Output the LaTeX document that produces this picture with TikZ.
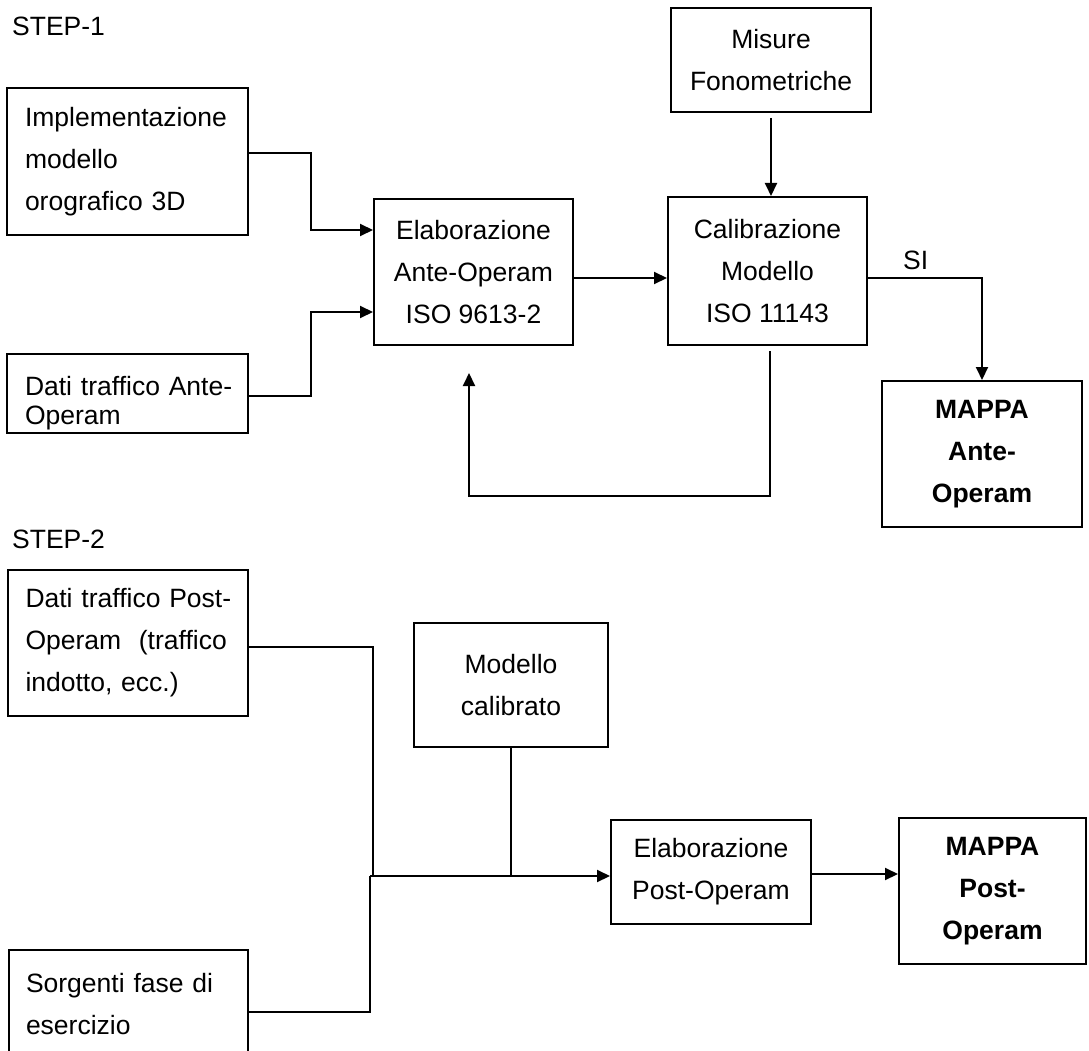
\documentclass[tikz,border=0pt]{standalone}
\usepackage{fontspec}
\setmainfont{Liberation Sans}
\usetikzlibrary{arrows.meta}
\begin{document}
\begin{tikzpicture}[x=1pt,y=-1pt,
  txt/.style={font=\fontsize{26.5}{42}\selectfont},
  box/.style={draw, line width=2pt, inner sep=0pt, align=center, txt},
  lbox/.style={box, align=left, text width=205pt},
  bbox/.style={box, font=\fontsize{26.5}{42}\selectfont\bfseries},
  conn/.style={line width=2pt},
  arr/.style={conn, -{Triangle[length=13pt,width=12pt]}},
  lbl/.style={font=\fontsize{26.5}{32}\selectfont, inner sep=0pt}]
\useasboundingbox (0,0) rectangle (1089,1051);
\clip (0,0) rectangle (1089,1051);

% STEP-1
\node[lbl, anchor=base west] (s1) at (12,36) {STEP-1};
\node[lbox, minimum width=241pt, minimum height=147pt] (impl) at (127.5,161.5) {Implementazione\\modello\\orografico 3D};
\node[box, minimum width=241pt, minimum height=79pt] (datiA) at (127.5,393.5) {};
\node[lbl, align=left, text width=205pt, font=\fontsize{26.5}{29}\selectfont, anchor=base] (datiAt) at (127.5,395) {\makebox[205pt][s]{Dati traffico Ante-}\\Operam};
\node[box, minimum width=199pt, minimum height=146pt] (elabA) at (473.5,272) {Elaborazione\\Ante-Operam\\ISO 9613-2};
\node[box, minimum width=200pt, minimum height=104pt] (misure) at (771,60) {Misure\\Fonometriche};
\node[box, minimum width=199pt, minimum height=148pt] (cal) at (767.5,271) {Calibrazione\\Modello\\ISO 11143};
\node[bbox, minimum width=200pt, minimum height=146pt] (mappaA) at (982,454) {MAPPA\\Ante-\\Operam};
\node[lbl, anchor=base west] (si) at (903,269) {SI};

\draw[arr] ([yshift=8.5pt]impl.east) -- ++(62,0) |- ([yshift=42pt]elabA.west);
\draw[arr] ([yshift=-2.5pt]datiA.east) -- ++(62,0) |- ([yshift=-40pt]elabA.west);
\draw[arr] ([yshift=-6pt]elabA.east) -- ([yshift=-6pt]elabA.east -| cal.west);
\draw[arr] ([yshift=-5pt]misure.south) -- (misure.south |- cal.north);
\draw[arr] ([yshift=-7pt]cal.east) -| (mappaA.north);
\coordinate (fb) at (469,496);
\draw[arr] ([xshift=2.5pt,yshift=-5pt]cal.south) |- (fb) -- ([xshift=-4.5pt,yshift=-27pt]elabA.south);

% STEP-2
\node[lbl, anchor=base west] (s2) at (12,548) {STEP-2};
\node[lbox, minimum width=240pt, minimum height=146pt] (datiP) at (128,643) {\makebox[205pt][s]{Dati traffico Post-}\\\makebox[205pt][s]{Operam \ (traffico}\\indotto, ecc.)};
\node[box, minimum width=194pt, minimum height=124pt] (modello) at (511,685) {Modello\\calibrato};
\node[lbox, minimum width=239pt, minimum height=108pt] (sorg) at (128.5,1004) {\makebox[205pt][s]{Sorgenti fase di}\\esercizio};
\node[box, minimum width=200pt, minimum height=104pt] (elabP) at (711,872) {Elaborazione\\Post-Operam};
\node[bbox, minimum width=187pt, minimum height=146pt] (mappaP) at (992.5,891) {MAPPA\\Post-\\Operam};

\coordinate (j1) at (373,876);
\coordinate (j) at (370,876);
\draw[conn] ([yshift=-4pt]datiP.east) -| (j1);
\draw[conn] ([yshift=-8pt]sorg.east) -| (j);
\draw[conn] (modello.south) -- (modello.south |- j);
\draw[arr] (j) -- (j -| elabP.west);
\draw[arr] ([yshift=-2pt]elabP.east) -- ([yshift=-2pt]elabP.east -| mappaP.west);
\end{tikzpicture}
\end{document}
